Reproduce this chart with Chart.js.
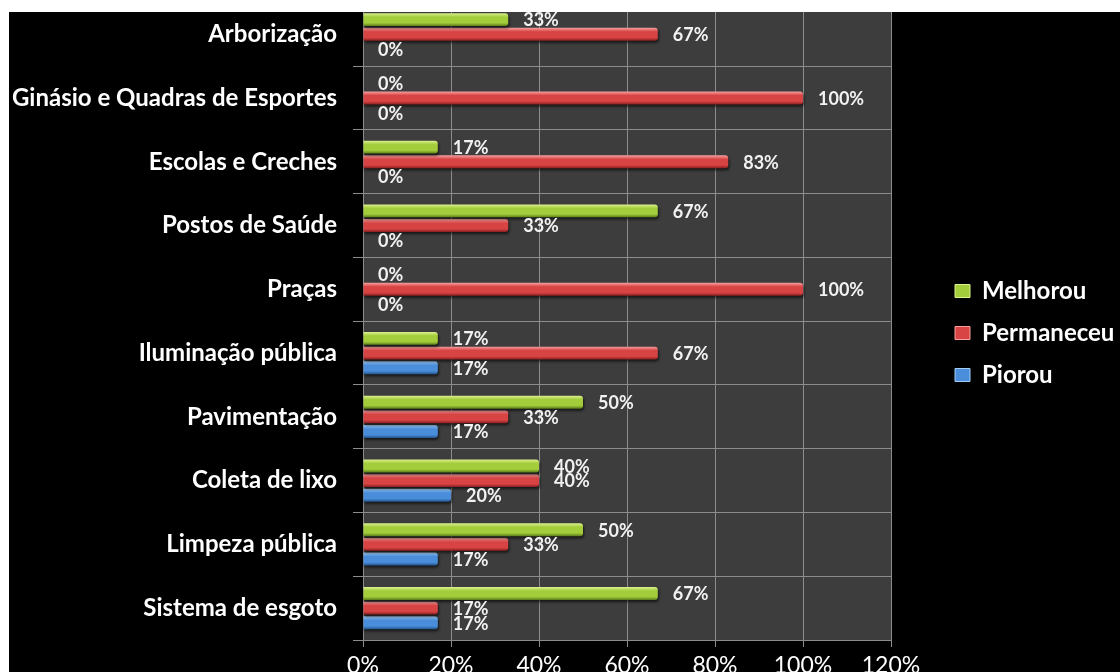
<!DOCTYPE html>
<html lang="pt-BR">
<head>
<meta charset="utf-8">
<title>Avaliação dos serviços públicos</title>
<script src="https://cdn.jsdelivr.net/npm/chart.js@4.4.1/dist/chart.umd.min.js"></script>
<style>
  html, body { margin: 0; padding: 0; background: #fff; }
  #moldura { position: absolute; left: 9px; top: 12px; width: 1111px; height: 660px; overflow: hidden; background: #000; }
  #area { position: absolute; left: 0; top: -40px; width: 1111px; height: 740px; }
</style>
</head>
<body>
<div id="moldura"><div id="area"><canvas id="grafico"></canvas></div></div>
<script>
const categorias = [
  "Arborização",
  "Ginásio e Quadras de Esportes",
  "Escolas e Creches",
  "Postos de Saúde",
  "Praças",
  "Iluminação pública",
  "Pavimentação",
  "Coleta de lixo",
  "Limpeza pública",
  "Sistema de esgoto",
];
const melhorou   = [33, 0, 17, 67, 0, 17, 50, 40, 50, 67];
const permaneceu = [67, 100, 83, 33, 100, 67, 33, 40, 33, 17];
const piorou     = [0, 0, 0, 0, 0, 17, 17, 20, 17, 17];
const escalaX    = [0, 20, 40, 60, 80, 100, 120];

const FONTE = "Lato, 'Open Sans', sans-serif";
const CAT_PCT = 0.69;
const BAR_PCT = 0.88;

const cores = [
  { claro: "#dcf28e", medio: "#a4cd3c", escuro: "#5c7c18" },
  { claro: "#f6a0a0", medio: "#d84444", escuro: "#8a1e1e" },
  { claro: "#a2cef6", medio: "#4a8edb", escuro: "#23558e" },
];

// cilindro: faixa clara em cima, tom escuro embaixo
function preenchimento(c) {
  return (ctx) => {
    if (ctx.type !== "data") return c.medio;
    const y = ctx.chart.scales.y;
    if (!y || !(y.bottom > y.top)) return c.medio;
    const faixa = (y.bottom - y.top) / categorias.length;
    const grupo = faixa * CAT_PCT;
    const fatia = grupo / 3;
    const meio = y.getPixelForTick(ctx.dataIndex) - grupo / 2 + fatia * (ctx.datasetIndex + 0.5);
    const meia = fatia * BAR_PCT / 2;
    const g = ctx.chart.ctx.createLinearGradient(0, meio - meia, 0, meio + meia);
    g.addColorStop(0, c.claro);
    g.addColorStop(0.3, c.medio);
    g.addColorStop(0.75, c.medio);
    g.addColorStop(1, c.escuro);
    return g;
  };
}

const fundoPlot = {
  id: "fundoPlot",
  beforeDraw(chart) {
    const { ctx, chartArea: a } = chart;
    ctx.save();
    ctx.fillStyle = "#3d3d3d";
    ctx.fillRect(a.left, a.top, a.right - a.left, a.bottom - a.top);
    ctx.restore();
  },
};

const sombra = {
  id: "sombra",
  beforeDatasetsDraw(chart) {
    const ctx = chart.ctx;
    ctx.save();
    ctx.shadowColor = "rgba(0,0,0,0.65)";
    ctx.shadowOffsetY = 2;
    ctx.shadowOffsetX = 1;
    ctx.shadowBlur = 3;
  },
  afterDatasetsDraw(chart) {
    chart.ctx.restore();
  },
};

const rotulos = {
  id: "rotulos",
  afterDatasetsDraw(chart) {
    const ctx = chart.ctx;
    ctx.save();
    ctx.font = "bold 18px " + FONTE;
    ctx.fillStyle = "#f2f2f2";
    ctx.textAlign = "left";
    ctx.textBaseline = "middle";
    chart.data.datasets.forEach((ds, i) => {
      chart.getDatasetMeta(i).data.forEach((bar, j) => {
        ctx.fillText(ds.data[j] + "%", bar.x + 15, bar.y + 1);
      });
    });
    ctx.restore();
  },
};

// legenda fora da área do gráfico, à direita
const posLegenda = {
  id: "posLegenda",
  afterLayout(chart) {
    const lg = chart.legend;
    if (!lg) return;
    const w = lg.width, h = lg.height;
    lg.left = 928; lg.right = 928 + w;
    lg.top = 289; lg.bottom = 289 + h;
  },
};

new Chart(document.getElementById("grafico"), {
  type: "bar",
  data: {
    labels: categorias,
    datasets: [
      { label: "Melhorou", data: melhorou, backgroundColor: preenchimento(cores[0]) },
      { label: "Permaneceu", data: permaneceu, backgroundColor: preenchimento(cores[1]) },
      { label: "Piorou", data: piorou, backgroundColor: preenchimento(cores[2]) },
    ],
  },
  plugins: [fundoPlot, sombra, rotulos, posLegenda],
  options: {
    indexAxis: "y",
    responsive: true,
    maintainAspectRatio: false,
    animation: false,
    categoryPercentage: CAT_PCT,
    barPercentage: BAR_PCT,
    borderRadius: { topRight: 3, bottomRight: 3 },
    borderSkipped: "start",
    layout: { padding: { top: 9, left: 0, right: 229, bottom: 0 } },
    plugins: {
      tooltip: { enabled: false },
      legend: {
        position: "chartArea",
        align: "start",
        labels: {
          color: "#ffffff",
          font: { family: FONTE, size: 24, weight: "bold" },
          boxWidth: 15,
          boxHeight: 13,
          padding: 18,
          generateLabels(chart) {
            return chart.data.datasets.map((ds, i) => ({
              text: ds.label,
              fillStyle: cores[i].medio,
              strokeStyle: cores[i].claro,
              lineWidth: 1,
              fontColor: "#ffffff",
              hidden: false,
              datasetIndex: i,
            }));
          },
        },
      },
    },
    scales: {
      x: {
        min: escalaX[0],
        max: escalaX[escalaX.length - 1],
        ticks: {
          stepSize: escalaX[1] - escalaX[0],
          color: "#ffffff",
          padding: 5,
          font: { family: FONTE, size: 23 },
          callback: (v) => v + "%",
        },
        grid: { color: "#8c8c8c", tickColor: "#8c8c8c", tickLength: 7 },
        border: { display: false },
        afterFit(scale) { scale.height = 72; },
      },
      y: {
        ticks: {
          color: "#ffffff",
          padding: 16,
          font: { family: FONTE, size: 24, weight: "bold" },
        },
        grid: { offset: true, color: "#8c8c8c", tickColor: "#8c8c8c", tickLength: 10 },
        border: { display: true, color: "#8c8c8c" },
        afterFit(scale) { scale.width = 354; },
      },
    },
  },
});
</script>
</body>
</html>
